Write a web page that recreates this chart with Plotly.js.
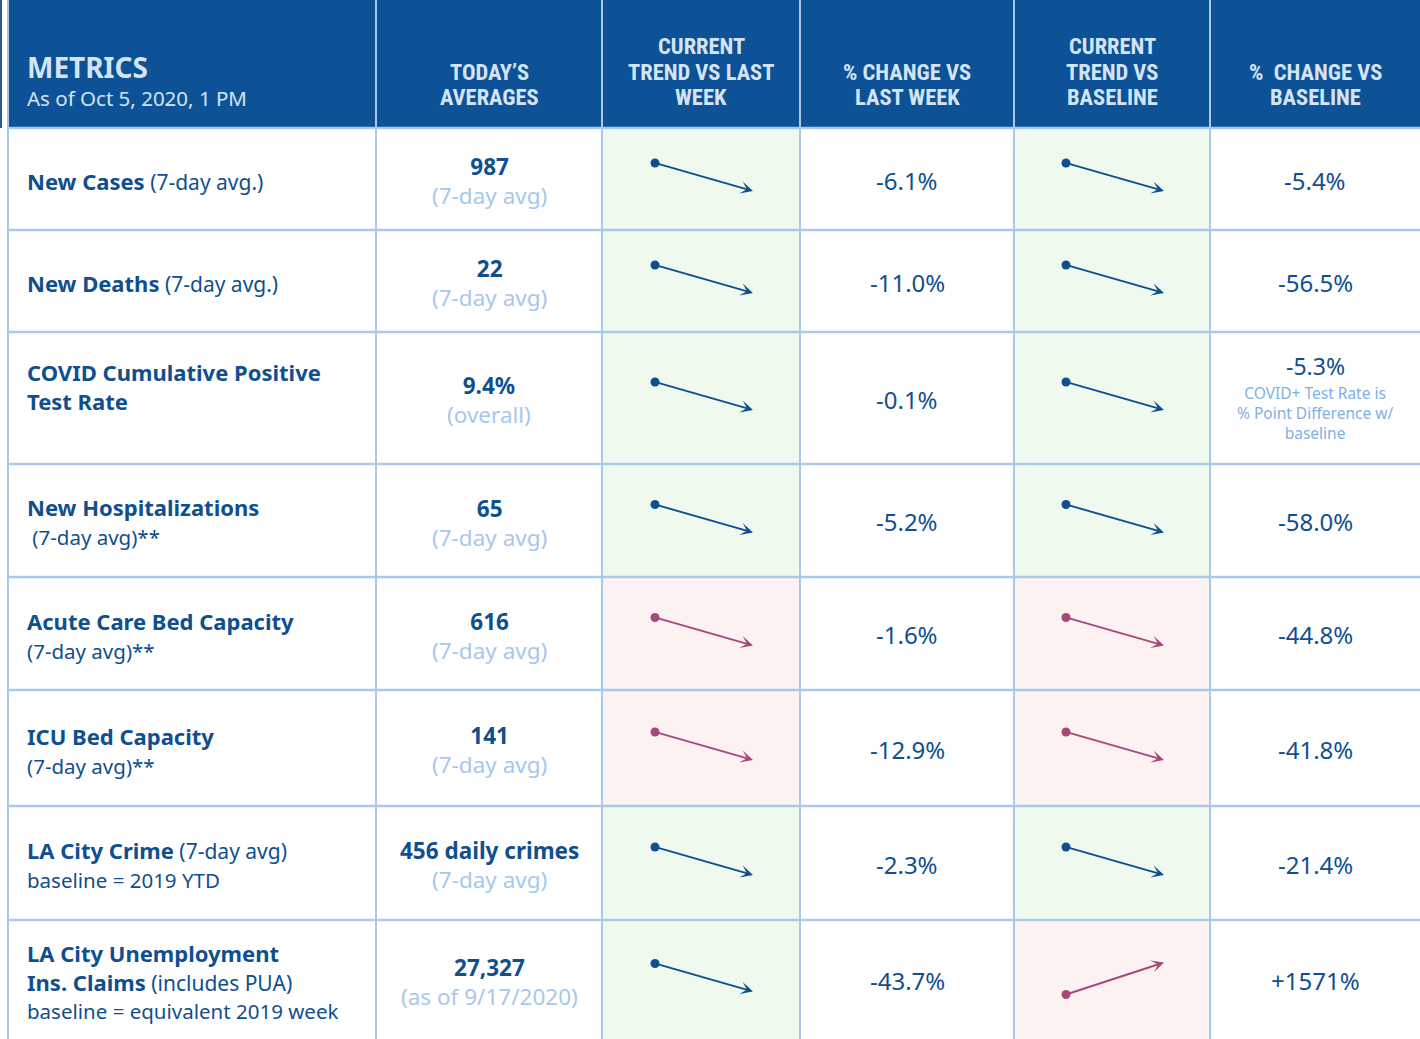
<!DOCTYPE html>
<html>
<head>
<meta charset="utf-8">
<script src="https://cdn.plot.ly/plotly-3.0.1.min.js"></script>
<style>html,body{margin:0;padding:0;background:#fff;}#chart{width:1420px;height:1039px;}</style>
</head>
<body>
<div id="chart"></div>
<script>
// ---------------- DATA ----------------
const headerTitle = "METRICS";
const headerSubtitle = "As of Oct 5, 2020, 1 PM";
const columnHeaders = [
  ["TODAY’S", "AVERAGES"],
  ["CURRENT", "TREND VS LAST", "WEEK"],
  ["% CHANGE VS", "LAST WEEK"],
  ["CURRENT", "TREND VS", "BASELINE"],
  ["%  CHANGE VS", "BASELINE"]
];
const metricBold = [
  ["New Cases"],
  ["New Deaths"],
  ["COVID Cumulative Positive", "Test Rate"],
  ["New Hospitalizations"],
  ["Acute Care Bed Capacity"],
  ["ICU Bed Capacity"],
  ["LA City Crime"],
  ["LA City Unemployment", "Ins. Claims"]
];
const metricQualifier = [
  " (7-day avg.)", " (7-day avg.)", "", "", "", "", " (7-day avg)", " (includes PUA)"
];
const metricSubline = [
  "", "", "", " (7-day avg)**", "(7-day avg)**", "(7-day avg)**", "baseline = 2019 YTD", "baseline = equivalent 2019 week"
];
const todayValues = ["987", "22", "9.4%", "65", "616", "141", "456 daily crimes", "27,327"];
const todayNotes = ["(7-day avg)", "(7-day avg)", "(overall)", "(7-day avg)", "(7-day avg)", "(7-day avg)", "(7-day avg)", "(as of 9/17/2020)"];
const trendLastWeek = ["down", "down", "down", "down", "down", "down", "down", "down"];
const statusLastWeek = ["good", "good", "good", "good", "bad", "bad", "good", "good"];
const changeLastWeek = ["-6.1%", "-11.0%", "-0.1%", "-5.2%", "-1.6%", "-12.9%", "-2.3%", "-43.7%"];
const trendBaseline = ["down", "down", "down", "down", "down", "down", "down", "up"];
const statusBaseline = ["good", "good", "good", "good", "bad", "bad", "good", "bad"];
const changeBaseline = ["-5.4%", "-56.5%", "-5.3%", "-58.0%", "-44.8%", "-41.8%", "-21.4%", "+1571%"];
const baselineNotes = ["", "", "COVID+ Test Rate is<br>% Point Difference w/<br>baseline", "", "", "", "", ""];

// ---------------- LAYOUT / STYLE ----------------
const W = 1420, H = 1039;
const colEdges = [8, 376, 602, 800, 1014, 1210, 1420];
const rowEdges = [0, 128, 230, 332, 464, 577, 690, 806, 920, 1039];
const labelShift = [2, 2, -12, 1, 2, 2, 1, 2];

const C = {
  headerBg: "#0D5296",
  headerText: "#D5E4F5",
  grid: "#A9C9EB",
  dark: "#0F4F8F",
  light: "#A6C8EC",
  note: "#7FB0E2",
  goodBg: "#EFF9EE",
  badBg: "#FDF2F2",
  goodArrow: "#0F4F8F",
  badArrow: "#A8487A"
};
const bodyFont = "'Noto Sans', 'Open Sans', sans-serif";
const headFont = "'Liberation Sans Narrow', 'Roboto Condensed', 'Roboto', sans-serif";

const shapes = [];
const annotations = [];

shapes.push({type: "rect", xref: "x", yref: "y", x0: colEdges[0], x1: W, y0: rowEdges[0], y1: rowEdges[1],
  fillcolor: C.headerBg, line: {width: 0}, layer: "below"});
shapes.push({type: "line", xref: "x", yref: "y", x0: 1, x1: 1, y0: 0, y1: rowEdges[1],
  line: {color: "#2C5C8E", width: 2}});

const nRows = metricBold.length;
for (let i = 0; i < nRows; i++) {
  const y0 = rowEdges[i + 1], y1 = rowEdges[i + 2];
  [[2, statusLastWeek[i]], [4, statusBaseline[i]]].forEach(([c, st]) => {
    shapes.push({type: "rect", xref: "x", yref: "y", x0: colEdges[c], x1: colEdges[c + 1], y0: y0, y1: y1,
      fillcolor: st === "good" ? C.goodBg : C.badBg, line: {width: 0}, layer: "below"});
  });
}
for (let i = 0; i < colEdges.length - 1; i++) {
  shapes.push({type: "line", xref: "x", yref: "y", x0: colEdges[i], x1: colEdges[i], y0: 0, y1: H,
    line: {color: C.grid, width: 2}});
}
for (let j = 1; j < rowEdges.length - 1; j++) {
  shapes.push({type: "line", xref: "x", yref: "y", x0: colEdges[0], x1: W, y0: rowEdges[j], y1: rowEdges[j],
    line: {color: C.grid, width: 2.5}});
}

// header texts
annotations.push({xref: "x", yref: "y", x: 25, y: 67, text: "<b>" + headerTitle + "</b>", showarrow: false,
  xanchor: "left", yanchor: "middle", font: {family: bodyFont, size: 28, color: C.headerText}});
annotations.push({xref: "x", yref: "y", x: 25, y: 98, text: headerSubtitle, showarrow: false,
  xanchor: "left", yanchor: "middle", font: {family: bodyFont, size: 20.5, color: C.headerText}});
const headerLineGap = 25.5;
columnHeaders.forEach((lines, k) => {
  const c = k + 1;
  const n = lines.length;
  lines.forEach((s, j) => {
    annotations.push({xref: "x", yref: "y", x: (colEdges[c] + colEdges[c + 1]) / 2,
      y: 97 - (n - 1 - j) * headerLineGap,
      text: "<b>" + s + "</b>", showarrow: false, xanchor: "center", yanchor: "middle",
      font: {family: headFont, size: 22.5, color: C.headerText}});
  });
});

function buildLabel(i) {
  const lines = metricBold[i].map(s => "<b>" + s + "</b>");
  if (metricQualifier[i]) {
    lines[lines.length - 1] += "<span style='font-size:21px'>" + metricQualifier[i] + "</span>";
  }
  if (metricSubline[i]) lines.push("<span style='font-size:20.5px'>" + metricSubline[i] + "</span>");
  return lines.join("<br>");
}

const arrowX = [];
const arrowY = [];
const arrowColors = [];
for (let i = 0; i < nRows; i++) {
  const y0 = rowEdges[i + 1], y1 = rowEdges[i + 2];
  const cy = (y0 + y1) / 2;
  annotations.push({xref: "x", yref: "y", x: 25, y: cy + labelShift[i], text: buildLabel(i), showarrow: false,
    xanchor: "left", yanchor: "middle", align: "left", font: {family: bodyFont, size: 22, color: C.dark}});
  const cx1 = (colEdges[1] + colEdges[2]) / 2;
  annotations.push({xref: "x", yref: "y", x: cx1, y: cy + 2,
    text: "<b>" + todayValues[i] + "</b><br><span style='color:" + C.light + "'>" + todayNotes[i] + "</span>",
    showarrow: false, xanchor: "center", yanchor: "middle", align: "center",
    font: {family: bodyFont, size: 22.5, color: C.dark}});
  const cx3 = (colEdges[3] + colEdges[4]) / 2;
  annotations.push({xref: "x", yref: "y", x: cx3, y: cy + 1, text: changeLastWeek[i], showarrow: false,
    xanchor: "center", yanchor: "middle", font: {family: bodyFont, size: 24, color: C.dark}});
  const cx5 = (colEdges[5] + colEdges[6]) / 2;
  if (baselineNotes[i]) {
    annotations.push({xref: "x", yref: "y", x: cx5, y: cy - 32, text: changeBaseline[i], showarrow: false,
      xanchor: "center", yanchor: "middle", font: {family: bodyFont, size: 23, color: C.dark}});
    annotations.push({xref: "x", yref: "y", x: cx5, y: cy + 15, text: baselineNotes[i], showarrow: false,
      xanchor: "center", yanchor: "middle", align: "center", font: {family: bodyFont, size: 15.5, color: C.note}});
  } else {
    annotations.push({xref: "x", yref: "y", x: cx5, y: cy + 1, text: changeBaseline[i], showarrow: false,
      xanchor: "center", yanchor: "middle", font: {family: bodyFont, size: 24, color: C.dark}});
  }
  [[2, trendLastWeek[i], statusLastWeek[i]], [4, trendBaseline[i], statusBaseline[i]]].forEach(([c, dir, st]) => {
    const cx = (colEdges[c] + colEdges[c + 1]) / 2;
    const col = st === "good" ? C.goodArrow : C.badArrow;
    const tx = cx - 46, hx = cx + 52;
    const ty = dir === "down" ? cy - 16 : cy + 15;
    const hy = dir === "down" ? cy + 12 : cy - 17;
    annotations.push({xref: "x", yref: "y", axref: "x", ayref: "y", x: hx, y: hy, ax: tx, ay: ty,
      text: "", showarrow: true, arrowhead: 3, arrowsize: 1.1, arrowwidth: 1.9, arrowcolor: col});
    arrowX.push(tx); arrowY.push(ty); arrowColors.push(col);
  });
}

const traces = [{
  type: "scatter", mode: "markers", x: arrowX, y: arrowY, hoverinfo: "skip",
  marker: {size: 9, color: arrowColors}, showlegend: false
}];

const layout = {
  width: W, height: H,
  margin: {l: 0, r: 0, t: 0, b: 0},
  paper_bgcolor: "#ffffff", plot_bgcolor: "#ffffff",
  xaxis: {range: [0, W], visible: false, fixedrange: true},
  yaxis: {range: [H, 0], visible: false, fixedrange: true},
  shapes: shapes,
  annotations: annotations,
  showlegend: false
};
Plotly.newPlot("chart", traces, layout, {staticPlot: true, displayModeBar: false});
</script>
</body>
</html>
